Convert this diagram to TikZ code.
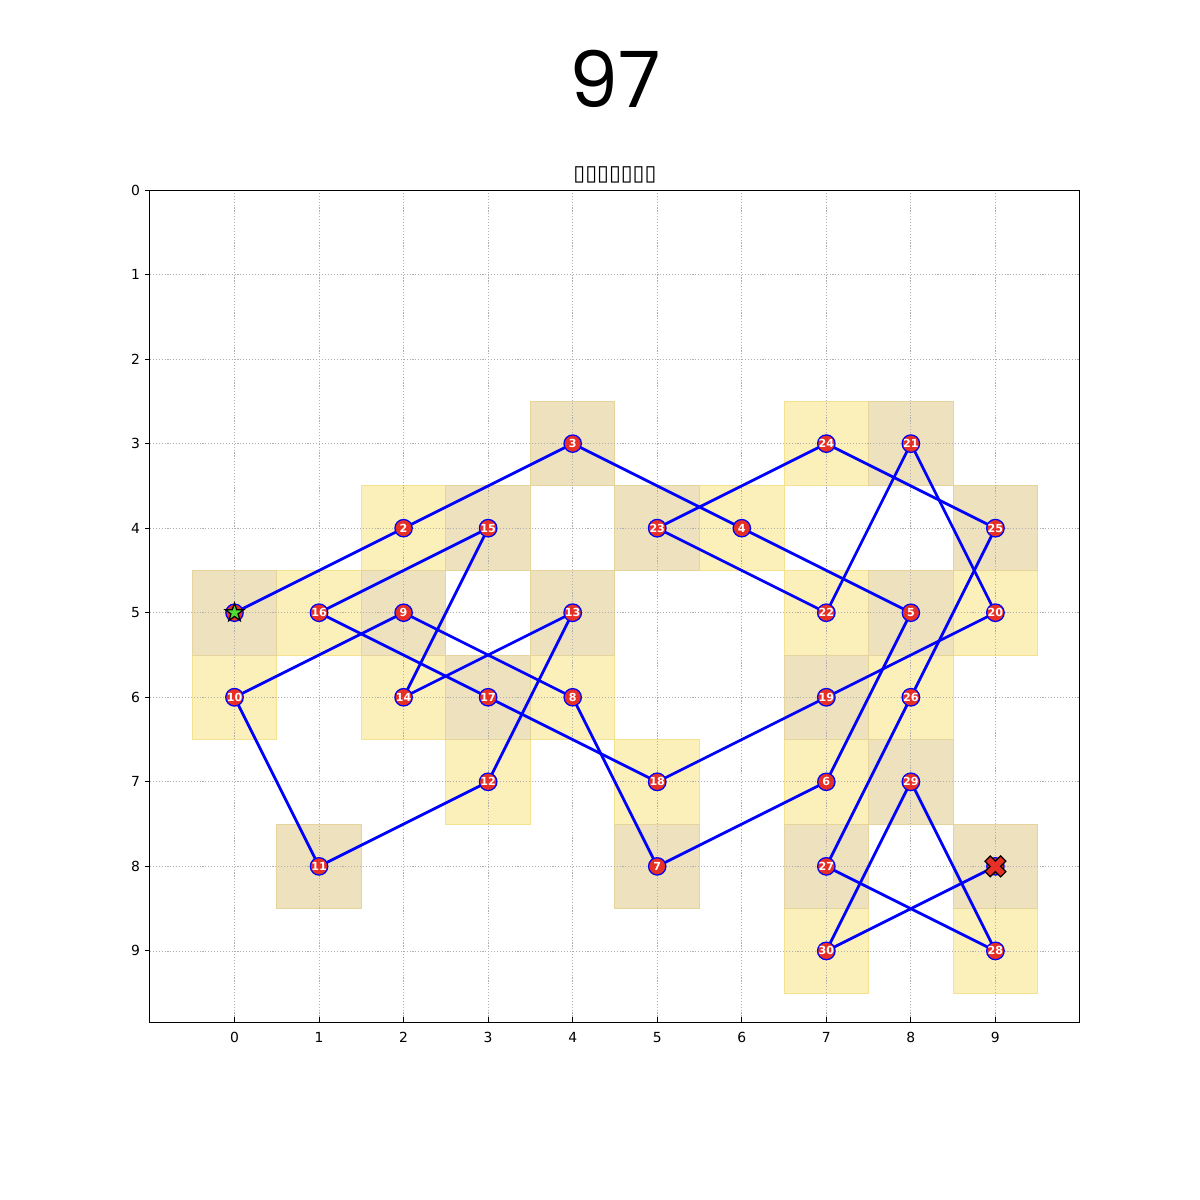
\documentclass[tikz,border=0pt]{standalone}
\usepackage{fontspec}
\setmainfont{DejaVu Sans}
\newfontfamily\titlefont{Poppins}
\usetikzlibrary{shapes.geometric}
\pgfdeclarelayer{bg}
\pgfsetlayers{bg,main}
\definecolor{cellY}{RGB}{252,240,186}
\definecolor{cellYe}{RGB}{245,226,145}
\definecolor{cellT}{RGB}{237,225,190}
\definecolor{cellTe}{RGB}{229,212,155}
\definecolor{ptred}{RGB}{230,48,38}
\definecolor{stargreen}{RGB}{80,220,50}
\definecolor{gridgray}{RGB}{175,175,175}
\tikzset{
  ycell/.style={fill=cellY, draw=cellYe, line width=0.7pt},
  tcell/.style={fill=cellT, draw=cellTe, line width=0.7pt},
  gridline/.style={gridgray, line width=0.55pt, dash pattern=on 0.8pt off 1.3pt},
  route/.style={blue, line width=2pt},
  pt/.style={circle, fill=ptred, draw=blue, line width=0.9pt, minimum size=12.5pt, inner sep=0pt,
             text=white, font=\bfseries\fontsize{8}{8}\selectfont},
  ticklab/.style={font=\fontsize{10}{12}\selectfont, inner sep=0pt},
  startmark/.style={star, star points=5, star point ratio=2.618, fill=stargreen, draw=black,
             line width=0.9pt, minimum size=14pt, inner sep=0pt},
}
\begin{document}
\begin{tikzpicture}[x=60.873pt, y=-60.873pt]
\useasboundingbox (-2.7737,-2.2473) rectangle (11.420,11.946);
% title and subtitle
\node[font=\titlefont\fontsize{56}{56}\selectfont, inner sep=0pt] (title) at (4.5,-1.31) {97};
\node[font=\fontsize{15.5}{17}\selectfont, inner sep=0pt] (subtitle) at (4.5,-0.18) {▯▯▯▯▯▯▯};
% route nodes
\node[pt] (n1) at (0,5) {};
\foreach \i/\x/\y in {2/2/4,3/4/3,4/6/4,5/8/5,6/7/7,7/5/8,8/4/6,9/2/5,10/0/6,11/1/8,12/3/7,13/4/5,14/2/6,15/3/4,16/1/5,17/3/6,18/5/7,19/7/6,20/9/5,21/8/3,22/7/5,23/5/4,24/7/3,25/9/4,26/8/6,27/7/8,28/9/9,29/8/7,30/7/9}
  \node[pt] (n\i) at (\x,\y) {\i};
\node[pt] (n31) at (9,8) {};
\node[startmark] (start) at (n1.center) {};
\fill[ptred, draw=black, line width=0.9pt, shift={(n31.center)}, x=3.75pt, y=3.75pt]
  (-1,-2) -- (0,-1) -- (1,-2) -- (2,-1) -- (1,0) -- (2,1) -- (1,2) -- (0,1) -- (-1,2) -- (-2,1) -- (-1,0) -- (-2,-1) -- cycle;
\begin{pgfonlayer}{bg}
  % cells
  \foreach \x/\y in {0/6,1/5,2/4,2/6,3/7,4/6,5/7,6/4,7/3,7/5,7/7,7/9,8/6,9/5,9/9}
    \draw[ycell] (\x-0.5,\y-0.5) rectangle (\x+0.5,\y+0.5);
  \foreach \x/\y in {0/5,1/8,2/5,3/4,3/6,4/3,4/5,5/4,5/8,7/6,7/8,8/3,8/5,8/7,9/4,9/8}
    \draw[tcell] (\x-0.5,\y-0.5) rectangle (\x+0.5,\y+0.5);
  % grid
  \foreach \k in {0,...,9} {
    \draw[gridline] (\k,0) -- (\k,9.841);
    \draw[gridline] (-1,\k) -- (10,\k);
  }
  % route
  \foreach \a/\b in {1/2,2/3,3/4,4/5,5/6,6/7,7/8,8/9,9/10,10/11,11/12,12/13,13/14,14/15,15/16,16/17,17/18,18/19,19/20,20/21,21/22,22/23,23/24,24/25,25/26,26/27,27/28,28/29,29/30,30/31}
    \draw[route] (n\a.center) -- (n\b.center);
\end{pgfonlayer}
% axes frame
\draw[black, line width=0.7pt] (-1,0) rectangle (10,9.841);
\foreach \k in {0,...,9} {
  \draw[black, line width=0.7pt] (\k,9.841) -- ++(0,3.5pt);
  \node[ticklab, anchor=north] (xl\k) at ([yshift=-7pt]\k,9.841) {\k};
  \draw[black, line width=0.7pt] (-1,\k) -- ++(-3.5pt,0);
  \node[ticklab, anchor=east] (yl\k) at ([xshift=-7pt]-1,\k) {\k};
}
\end{tikzpicture}
\end{document}
